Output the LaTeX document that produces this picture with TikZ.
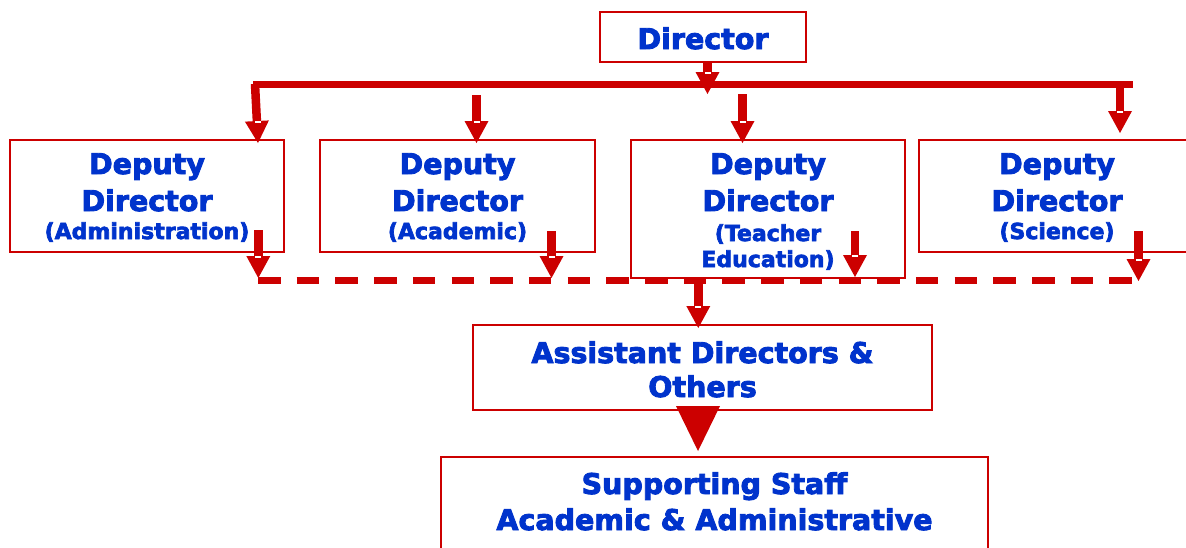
\documentclass[tikz,border=0pt]{standalone}
\usepackage{fontspec}
\setmainfont{DejaVu Sans}[BoldFeatures={FakeBold=3}]
\usetikzlibrary{arrows.meta,calc}
\definecolor{cred}{RGB}{204,0,0}
\definecolor{cblue}{RGB}{0,51,204}
\tikzset{
  box/.style={draw=cred, line width=1.6pt, inner sep=0pt},
  txt/.style={text=cblue, anchor=base, inner sep=0pt, font=\bfseries\fontsize{28.5}{32}\selectfont},
  subtxt/.style={txt, font=\bfseries\fontsize{22}{26}\selectfont},
  arr/.style={cred, line width=8.5pt, -{Triangle[width=24pt,length=22pt,line width=0pt]}},
  barline/.style={cred, line width=6.5pt},
  dashbar/.style={cred, line width=7.5pt, dash pattern=on 22.5pt off 16.2pt},
  bigarr/.style={cred, line width=0.1pt, -{Triangle[width=44pt,length=45pt,line width=0pt]}},
  whitemark/.style={fill=white}
}
\newcommand\myarrow[2]{%
  \draw[arr] (#1) -- (#2);
  \fill[whitemark] ($(#2)+(-3,-21.8)$) rectangle ($(#2)+(3,-19.6)$);}
\begin{document}
\begin{tikzpicture}[x=1pt,y=-1pt]
\useasboundingbox (0,0) rectangle (1186,547);
\clip (0,0) rectangle (1186,547);
\fill[white] (0,0) rectangle (1186,547);

% boxes
\node[box, minimum width=206pt, minimum height=50pt] (dir) at (703,37) {};
\node[box, minimum width=274pt, minimum height=112pt] (dd1) at (147,196) {};
\node[box, minimum width=275pt, minimum height=112pt] (dd2) at (457.5,196) {};
\node[box, minimum width=274pt, minimum height=138pt] (dd3) at (768,209) {};
\node[box, minimum width=276pt, minimum height=112pt] (dd4) at (1057,196) {};
\node[box, minimum width=459pt, minimum height=85pt] (asst) at (702.5,367.5) {};
\node[box, minimum width=547pt, minimum height=150pt] (sup) at (714.5,532) {};

% texts
\node[txt] (tdir) at (703,49) {Director};
\node[txt] (t1a) at (147,174) {Deputy};
\node[txt] (t1b) at (147,211) {Director};
\node[subtxt] (t1c) at (147,239) {(Administration)};
\node[txt] (t2a) at (457.5,174) {Deputy};
\node[txt] (t2b) at (457.5,211) {Director};
\node[subtxt] (t2c) at (457.5,239) {(Academic)};
\node[txt] (t3a) at (768,174) {Deputy};
\node[txt] (t3b) at (768,211) {Director};
\node[subtxt] (t3c) at (768,241) {(Teacher};
\node[subtxt] (t3d) at (768,267) {Education)};
\node[txt] (t4a) at (1057,174) {Deputy};
\node[txt] (t4b) at (1057,211) {Director};
\node[subtxt] (t4c) at (1057,239) {(Science)};
\node[txt] (tas1) at (702.5,363) {Assistant Directors \&};
\node[txt] (tas2) at (702.5,397) {Others};
\node[txt] (tsu1) at (714.5,494) {Supporting Staff};
\node[txt] (tsu2) at (714.5,530) {Academic \& Administrative};

% coordinates
\coordinate (barL) at (253,84.5);
\coordinate (barR) at (1133,84.5);
\coordinate (dstart) at ($(dir.south)+(4.5,0)$);
\coordinate (dtip) at (707.5,94);
\coordinate (a1s) at (255,84);    \coordinate (a1e) at (258,143);
\coordinate (a2s) at (476.5,95);  \coordinate (a2e) at (476.5,143);
\coordinate (a3s) at (742.5,94);  \coordinate (a3e) at (742.5,143);
\coordinate (a4s) at (1120,84);   \coordinate (a4e) at (1120,133);
\coordinate (l1s) at (258.3,230); \coordinate (l1e) at (258.3,278);
\coordinate (l2s) at (551.5,231); \coordinate (l2e) at (551.5,278);
\coordinate (l3s) at (855,231);   \coordinate (l3e) at (855,277);
\coordinate (l4s) at (1138.5,231);\coordinate (l4e) at (1138.5,281);
\coordinate (dashL) at (258,280.5);
\coordinate (dashR) at (1135,280.5);
\coordinate (ms) at (698.3,277);  \coordinate (me) at (698.3,328);
\coordinate (bs) at (698,406);    \coordinate (be) at (698,451);

% connectors
\draw[barline] (barL) -- (barR);
\myarrow{dstart}{dtip}
\myarrow{a1s}{a1e}
\myarrow{a2s}{a2e}
\myarrow{a3s}{a3e}
\myarrow{a4s}{a4e}
\draw[dashbar] (dashL) -- (dashR);
\myarrow{l1s}{l1e}
\myarrow{l2s}{l2e}
\myarrow{l3s}{l3e}
\myarrow{l4s}{l4e}
\myarrow{ms}{me}
\draw[bigarr] (bs) -- (be);
\end{tikzpicture}
\end{document}
